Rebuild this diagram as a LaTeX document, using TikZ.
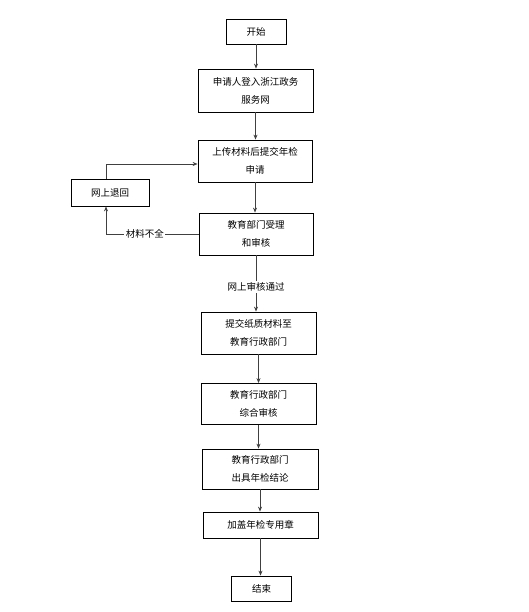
\documentclass[tikz,border=0pt]{standalone}
\usepackage{fontspec}
\setmainfont{Noto Sans CJK SC}
\usetikzlibrary{arrows.meta}

\tikzset{
  box/.style={draw, line width=0.8pt, align=center, inner sep=0pt, font=\fontsize{9.5}{18}\selectfont},
  flow/.style={-{Stealth[length=5pt, width=4pt]}, line width=0.8pt, draw=black!75},
  lbl/.style={fill=white, inner sep=1.5pt, font=\fontsize{9.5}{12}\selectfont}
}

\begin{document}
\begin{tikzpicture}[x=1pt, y=-1pt]
  \useasboundingbox (0,0) rectangle (528,612);
  % main column
  \node[box, minimum width=60pt, minimum height=25pt] (start) at (256,31.5) {开始};
  \node[box, minimum width=115pt, minimum height=43pt] (login) at (255.5,90.5) {申请人登入浙江政务\\服务网};
  \node[box, minimum width=114pt, minimum height=42pt] (upload) at (255,161) {上传材料后提交年检\\申请};
  \node[box, minimum width=78pt, minimum height=27pt] (back) at (110,192.5) {网上退回};
  \node[box, minimum width=114pt, minimum height=42pt] (accept) at (256,234) {教育部门受理\\和审核};
  \node[box, minimum width=115pt, minimum height=42pt] (paper) at (258.5,333) {提交纸质材料至\\教育行政部门};
  \node[box, minimum width=115pt, minimum height=41pt] (review) at (258.5,404) {教育行政部门\\综合审核};
  \node[box, minimum width=116pt, minimum height=40pt] (result) at (260,469) {教育行政部门\\出具年检结论};
  \node[box, minimum width=115pt, minimum height=26pt] (stamp) at (260.5,525) {加盖年检专用章};
  \node[box, minimum width=60pt, minimum height=25pt] (end) at (261.5,588.5) {结束};

  \draw[flow] (start.south) -- (start.south |- login.north);
  \draw[flow] (login.south) -- (login.south |- upload.north);
  \draw[flow] (upload.south) -- (upload.south |- accept.north);
  \draw[flow] (accept.south) -- node[lbl, pos=0.56] {网上审核通过} (accept.south |- paper.north);
  \draw[flow] (paper.south) -- (paper.south |- review.north);
  \draw[flow] (review.south) -- (review.south |- result.north);
  \draw[flow] (result.south) -- (result.south |- stamp.north);
  \draw[flow] (stamp.south) -- (stamp.south |- end.north);

  % return loop
  \draw[flow] (accept.west) -| node[lbl, pos=0.29] {材料不全} ([xshift=-4pt]back.south);
  \draw[flow] ([xshift=-4pt]back.north) |- ([yshift=-3pt]upload.west);
\end{tikzpicture}
\end{document}
